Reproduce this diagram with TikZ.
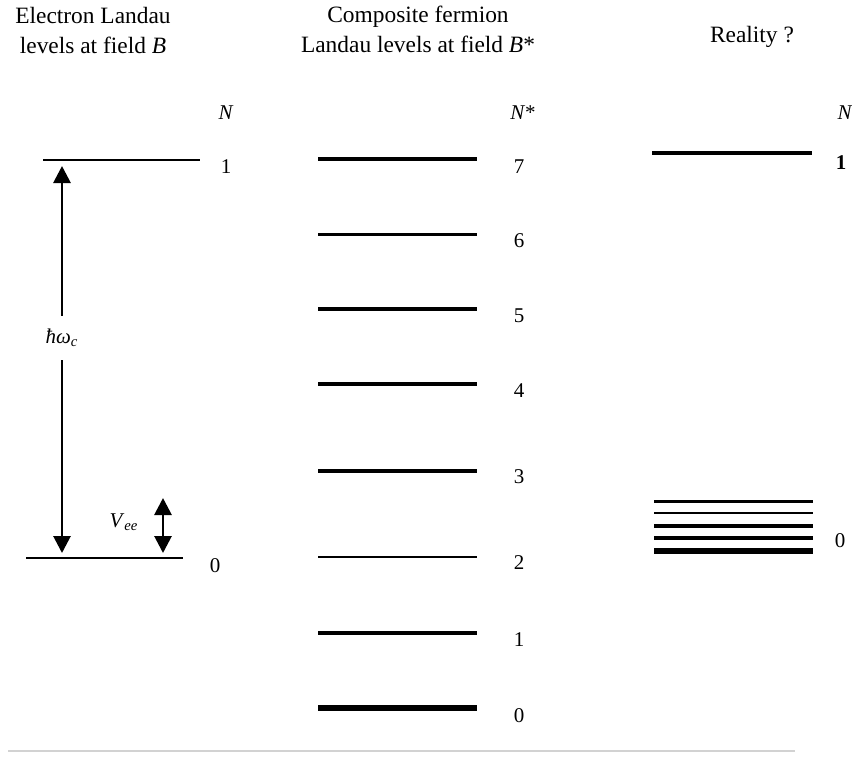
\documentclass[tikz,border=0pt]{standalone}
\usepackage{fontspec}
\setmainfont{Liberation Serif}
\usetikzlibrary{arrows.meta}
\begin{document}
\begin{tikzpicture}[x=0.5pt,y=-0.5pt,
  lvl/.style={line width=#1},
  lab/.style={font=\fontsize{10.5}{12}\selectfont, inner sep=0pt},
  ttl/.style={font=\fontsize{11.7}{15}\selectfont, align=center, inner sep=0pt},
  arr/.style={line width=1.4pt, -{Triangle[width=8.5pt,length=8.5pt]}},
  darr/.style={line width=1.4pt, {Triangle[width=8.5pt,length=8.5pt]}-{Triangle[width=8.5pt,length=8.5pt]}},
]
\useasboundingbox (0,0) rectangle (852,756);

% titles
\node[ttl] (t1) at (93,30) {Electron Landau\\levels at field \textit{B}};
\node[ttl] (t2) at (418,29) {Composite fermion\\Landau levels at field \textit{B}*};
\node[ttl] (t3) at (752,37) {Reality ?};

% N labels
\node[lab] (nL) at (226,113) {\textit{N}};
\node[lab] (nM) at (523,113) {\textit{N}*};
\node[lab] (nR) at (845,113) {\textit{N}};

% left column
\draw[lvl=1.1pt] (43,160) -- (200,160);
\node[lab] (l1) at (226,167) {1};
\draw[lvl=1.3pt] (26,558) -- (183,558);
\node[lab] (l0) at (215,566) {0};
\coordinate (hwtop) at (62,166);
\coordinate (hwbot) at (62,553);
\node[lab, minimum height=22pt] (hw) at (62,338) {\textit{ħω}\textsubscript{\textit{c}}};
\draw[arr] (hw) -- (hwtop);
\draw[arr] (hw) -- (hwbot);
\node[lab] (vee) at (124,522) {\textit{V}\textsubscript{\textit{ee}}};
\coordinate (veetop) at (163,498);
\coordinate (veebot) at (163,553);
\draw[darr] (veetop) -- (veebot);

% middle column
\draw[lvl=1.6pt] (318,159) -- (477,159);
\draw[lvl=1.5pt] (318,234) -- (477,234);
\draw[lvl=1.7pt] (318,309) -- (477,309);
\draw[lvl=1.7pt] (318,384) -- (477,384);
\draw[lvl=1.8pt] (318,471) -- (477,471);
\draw[lvl=1.1pt] (318,557) -- (477,557);
\draw[lvl=2.2pt] (318,633) -- (477,633);
\draw[lvl=2.6pt] (318,708) -- (477,708);
\node[lab] (m7) at (519,167) {7};
\node[lab] (m6) at (519,241) {6};
\node[lab] (m5) at (519,316) {5};
\node[lab] (m4) at (519,391) {4};
\node[lab] (m3) at (519,477) {3};
\node[lab] (m2) at (519,563) {2};
\node[lab] (m1) at (519,640) {1};
\node[lab] (m0) at (519,716) {0};

% right column
\draw[lvl=2.2pt] (652,153) -- (812,153);
\node[lab] (r1) at (841,163) {\textbf{1}};
\draw[lvl=1.5pt] (654,501) -- (813,501);
\draw[lvl=1.0pt] (654,513) -- (813,513);
\draw[lvl=2.0pt] (654,526) -- (813,526);
\draw[lvl=2.4pt] (654,538) -- (813,538);
\draw[lvl=2.6pt] (654,551) -- (813,551);
\node[lab] (r0) at (840,541) {0};

% faint rule at the bottom
\draw[gray!35, line width=1pt] (8,751) -- (795,751);
\end{tikzpicture}
\end{document}
